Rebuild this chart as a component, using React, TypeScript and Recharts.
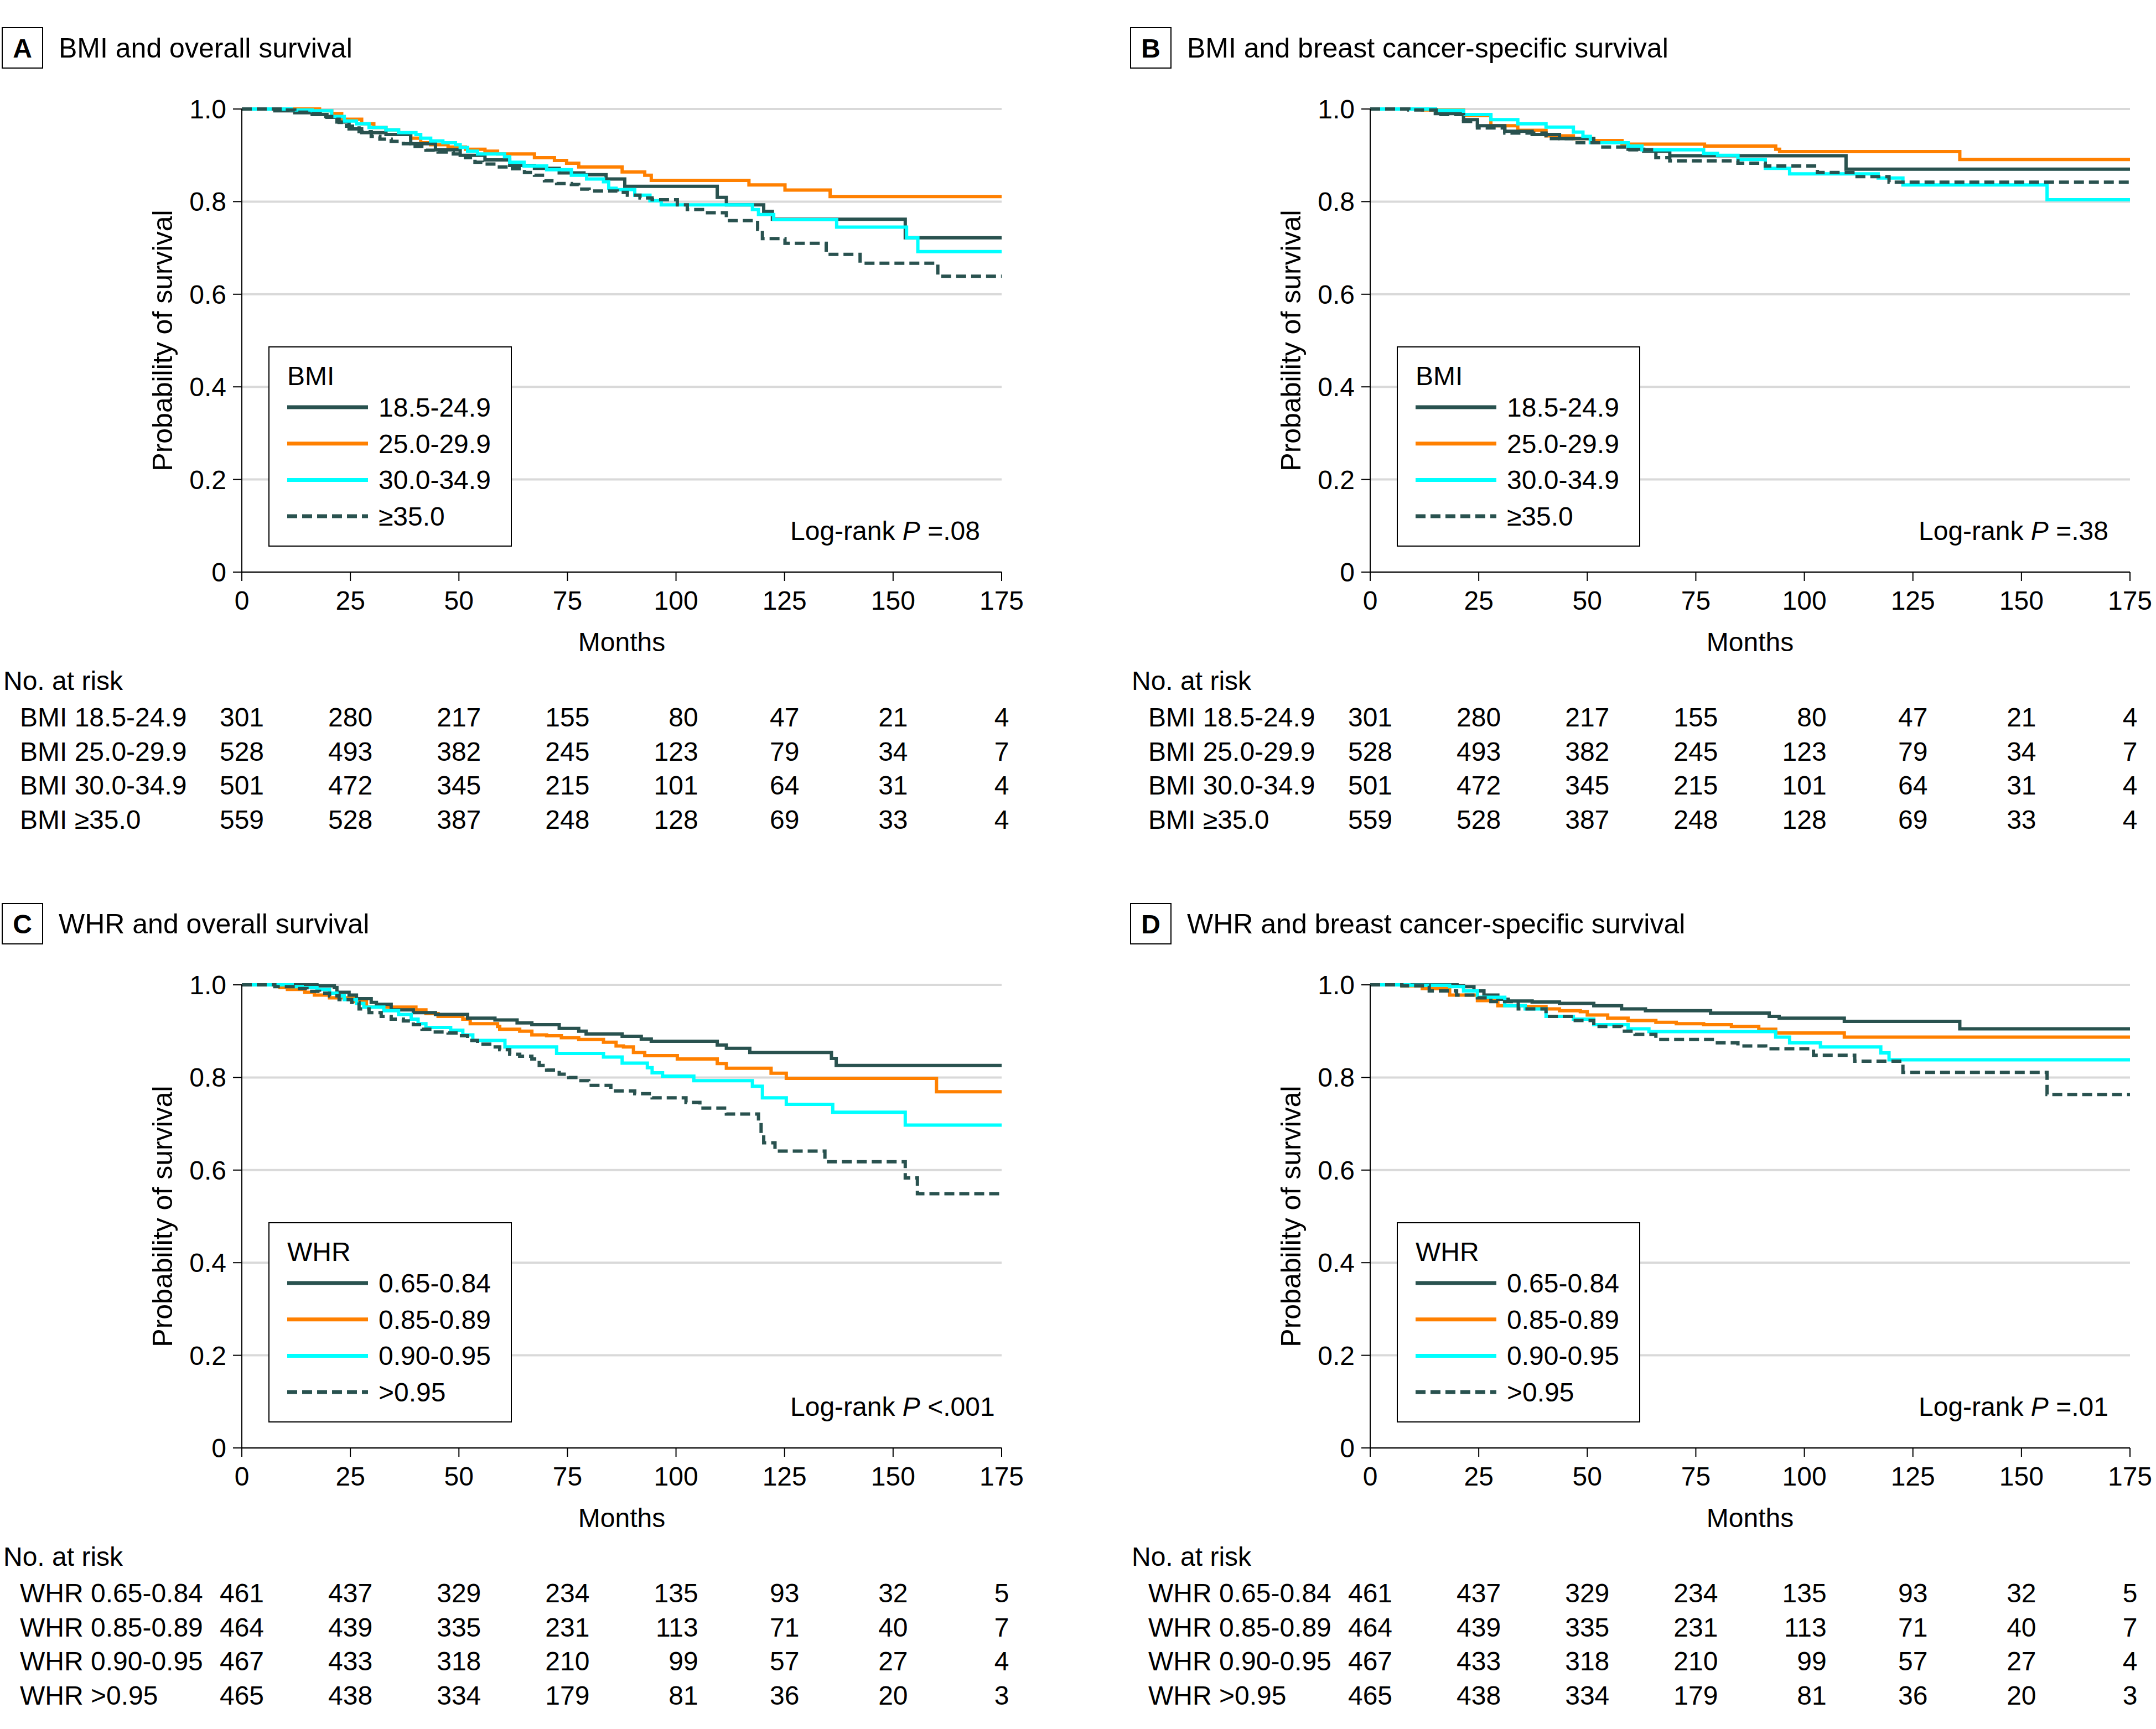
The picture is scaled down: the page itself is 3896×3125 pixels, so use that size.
import React from "react";
import { LineChart, Line, XAxis, YAxis, CartesianGrid, Legend } from "recharts";

type Pt = [number, number];

const months = [0, 25, 50, 75, 100, 125, 150, 175];
const probTicks = [0, 0.2, 0.4, 0.6, 0.8, 1];

// A: BMI and overall survival
const bmiOs185: Pt[] = [[0, 1], [7.6, 0.996], [12.2, 0.992], [16.2, 0.988], [19.6, 0.982], [21.9, 0.972], [24.7, 0.957], [27.6, 0.949], [33.2, 0.945], [38.9, 0.925], [44.6, 0.912], [50.3, 0.9], [56, 0.89], [61.7, 0.878], [67.4, 0.872], [73.1, 0.862], [78.8, 0.858], [83.9, 0.849], [88.2, 0.833], [109.5, 0.809], [111.6, 0.793], [120.2, 0.779], [122.2, 0.762], [152.8, 0.722], [175, 0.722]];
const bmiOs250: Pt[] = [[0, 1], [17.9, 0.996], [20.7, 0.99], [23, 0.978], [27.6, 0.968], [30.4, 0.96], [33.2, 0.955], [36.1, 0.947], [38.9, 0.937], [41.2, 0.927], [43.5, 0.923], [47.5, 0.918], [51.5, 0.913], [56, 0.909], [58.9, 0.903], [67.4, 0.895], [72, 0.889], [74.8, 0.883], [77.6, 0.875], [87.6, 0.864], [92.8, 0.857], [94.3, 0.846], [116.8, 0.836], [125.1, 0.825], [135.5, 0.811], [175, 0.811]];
const bmiOs300: Pt[] = [[0, 1], [11.4, 0.998], [16.2, 0.996], [20.7, 0.984], [23.6, 0.974], [26.4, 0.968], [29.3, 0.96], [33.2, 0.955], [36.1, 0.949], [40.1, 0.945], [41.2, 0.937], [43.5, 0.931], [46.3, 0.927], [49.2, 0.923], [50.3, 0.917], [52, 0.909], [54.3, 0.903], [60.5, 0.897], [61.7, 0.885], [65, 0.877], [70.2, 0.869], [75.9, 0.857], [79.4, 0.849], [83.3, 0.843], [84.5, 0.829], [86.2, 0.826], [90.5, 0.814], [94, 0.802], [96.6, 0.793], [117.6, 0.783], [119, 0.772], [122.5, 0.761], [137, 0.745], [153.1, 0.722], [155.7, 0.692], [175, 0.692]];
const bmiOs350: Pt[] = [[0, 1], [10.1, 0.998], [12.2, 0.993], [15.6, 0.99], [18.5, 0.984], [20.7, 0.978], [22.4, 0.971], [24.1, 0.963], [27, 0.951], [29.8, 0.941], [31.8, 0.935], [34.4, 0.93], [37.2, 0.925], [39.5, 0.919], [42.4, 0.911], [45.2, 0.907], [48.7, 0.903], [51.5, 0.895], [53.7, 0.885], [55.4, 0.881], [58.9, 0.875], [61.7, 0.871], [65.1, 0.863], [67.4, 0.857], [69.7, 0.845], [72.5, 0.839], [75.9, 0.837], [77.6, 0.827], [80, 0.823], [86.5, 0.82], [88.8, 0.814], [91.7, 0.808], [94.5, 0.804], [100.3, 0.793], [102.6, 0.783], [106.1, 0.776], [111.6, 0.759], [118.8, 0.74], [119.9, 0.72], [125.1, 0.71], [134.6, 0.686], [142.4, 0.667], [160.3, 0.639], [175, 0.639]];

// B: BMI and breast cancer-specific survival
const bmiBc185: Pt[] = [[0, 1], [15, 0.99], [21.5, 0.977], [24.7, 0.964], [31, 0.952], [37.3, 0.945], [43.6, 0.936], [51.5, 0.927], [59.4, 0.913], [63, 0.909], [69, 0.899], [109.6, 0.87], [175, 0.87]];
const bmiBc250: Pt[] = [[0, 1], [12, 0.998], [21.5, 0.986], [27.8, 0.964], [34, 0.954], [40.5, 0.942], [46.8, 0.936], [51.5, 0.932], [58, 0.924], [77, 0.92], [93.4, 0.913], [94.3, 0.908], [135.8, 0.891], [175, 0.891]];
const bmiBc300: Pt[] = [[0, 1], [15, 0.997], [21.5, 0.988], [27.8, 0.977], [34, 0.968], [40.5, 0.961], [46.8, 0.95], [49, 0.941], [50.7, 0.927], [59.4, 0.92], [62.6, 0.912], [76.8, 0.904], [80, 0.9], [84.7, 0.891], [91, 0.872], [96.6, 0.86], [117, 0.851], [122.7, 0.836], [155.9, 0.804], [175, 0.804]];
const bmiBc350: Pt[] = [[0, 1], [8.9, 0.998], [15.2, 0.988], [21.5, 0.973], [24.7, 0.959], [31, 0.948], [40.5, 0.936], [46.8, 0.927], [53.1, 0.918], [59.4, 0.912], [65.8, 0.895], [69, 0.888], [84.7, 0.883], [91, 0.877], [103, 0.863], [111.6, 0.854], [119.5, 0.842], [175, 0.842]];

// C: WHR and overall survival
const whrOs065: Pt[] = [[0, 1], [17.3, 0.998], [21.3, 0.994], [21.9, 0.984], [24.7, 0.978], [26.4, 0.97], [29.8, 0.962], [31, 0.958], [34.4, 0.946], [39.5, 0.94], [44.6, 0.936], [52, 0.928], [58.3, 0.924], [63.4, 0.918], [66.8, 0.914], [73.1, 0.906], [77.6, 0.9], [79.3, 0.894], [87.6, 0.889], [92, 0.883], [94.3, 0.878], [109.5, 0.87], [111.6, 0.863], [117, 0.854], [135.8, 0.841], [136.9, 0.826], [175, 0.826]];
const whrOs085: Pt[] = [[0, 1], [8.8, 0.994], [10.5, 0.99], [14.5, 0.984], [16.7, 0.978], [20.2, 0.972], [25.8, 0.964], [28.7, 0.952], [40.1, 0.946], [42.4, 0.938], [45.2, 0.932], [50.9, 0.926], [52.6, 0.916], [58.9, 0.91], [59.4, 0.904], [64, 0.9], [66.8, 0.892], [70.2, 0.89], [73.6, 0.886], [77.6, 0.882], [83.3, 0.876], [86.2, 0.868], [87.9, 0.866], [90.2, 0.854], [92.8, 0.847], [100.3, 0.84], [109.5, 0.83], [111.6, 0.82], [121.9, 0.809], [125.4, 0.798], [160, 0.769], [175, 0.769]];
const whrOs090: Pt[] = [[0, 1], [11.6, 0.996], [13.9, 0.994], [17.3, 0.99], [20.2, 0.982], [21.9, 0.976], [23.6, 0.968], [26.4, 0.96], [28.1, 0.952], [32.7, 0.944], [36.1, 0.936], [39, 0.926], [40.6, 0.916], [42.4, 0.908], [48.1, 0.902], [50.9, 0.892], [53.2, 0.88], [60.6, 0.866], [72.5, 0.852], [83.3, 0.844], [87.6, 0.831], [93.4, 0.821], [94.5, 0.81], [96.9, 0.803], [104.1, 0.793], [117.6, 0.781], [119.9, 0.756], [125.4, 0.742], [136.1, 0.725], [152.8, 0.697], [175, 0.697]];
const whrOs095: Pt[] = [[0, 1], [7.6, 0.996], [12.8, 0.992], [15, 0.986], [17.9, 0.982], [20.2, 0.976], [22.4, 0.968], [25.3, 0.962], [27, 0.948], [29.3, 0.94], [32.1, 0.932], [34.4, 0.926], [37.2, 0.922], [39.5, 0.914], [41.5, 0.904], [44.1, 0.898], [47.5, 0.896], [49.8, 0.89], [52, 0.88], [54.3, 0.872], [57.1, 0.866], [59.4, 0.86], [61.7, 0.85], [64, 0.846], [66.8, 0.84], [68.5, 0.826], [70.2, 0.816], [73.1, 0.807], [75.3, 0.8], [77.6, 0.793], [79.9, 0.783], [85, 0.771], [90.5, 0.765], [94.5, 0.756], [102.3, 0.746], [105.5, 0.734], [111.6, 0.721], [119, 0.703], [119.6, 0.678], [120.2, 0.659], [122.8, 0.641], [134.3, 0.618], [152.8, 0.583], [155.6, 0.549], [175, 0.549]];

// D: WHR and breast cancer-specific survival
const whrBc065: Pt[] = [[0, 1], [20, 0.998], [21.5, 0.996], [23.9, 0.987], [26.2, 0.978], [29.4, 0.969], [31.8, 0.965], [37.3, 0.963], [43.6, 0.96], [51.5, 0.955], [57.9, 0.948], [63.4, 0.944], [78.4, 0.939], [91.9, 0.932], [94.2, 0.928], [109.2, 0.921], [135.8, 0.905], [175, 0.905]];
const whrBc085: Pt[] = [[0, 1], [7.3, 0.998], [12, 0.992], [18.3, 0.978], [24.7, 0.966], [29.4, 0.955], [35.7, 0.953], [40.5, 0.948], [43.6, 0.944], [48.4, 0.942], [50, 0.935], [54.7, 0.928], [59.4, 0.923], [65.8, 0.919], [70.5, 0.916], [76.8, 0.914], [83.2, 0.91], [89.5, 0.904], [93.4, 0.896], [109.2, 0.887], [175, 0.887]];
const whrBc090: Pt[] = [[0, 1], [8.9, 0.999], [18.3, 0.996], [21.5, 0.987], [24.7, 0.973], [31, 0.955], [35.7, 0.948], [40.5, 0.932], [46.8, 0.926], [51.5, 0.914], [59.4, 0.905], [64.2, 0.899], [93.4, 0.887], [96.6, 0.875], [103.7, 0.866], [117.6, 0.853], [119.5, 0.838], [175, 0.838]];
const whrBc095: Pt[] = [[0, 1], [7.3, 0.998], [13.6, 0.987], [19.9, 0.978], [24.7, 0.972], [27.8, 0.964], [34.1, 0.948], [40.5, 0.932], [46.8, 0.923], [51.5, 0.91], [57.9, 0.9], [61, 0.893], [65.8, 0.882], [79.2, 0.875], [84.7, 0.868], [91.1, 0.862], [102.1, 0.848], [111.6, 0.835], [122.7, 0.811], [155.9, 0.763], [175, 0.763]];

const bmiGroups = ["18.5-24.9", "25.0-29.9", "30.0-34.9", "≥35.0"];
const whrGroups = ["0.65-0.84", "0.85-0.89", "0.90-0.95", ">0.95"];

// No. at risk
const bmiRiskLabels = ["BMI 18.5-24.9", "BMI 25.0-29.9", "BMI 30.0-34.9", "BMI ≥35.0"];
const bmiRisk185 = [301, 280, 217, 155, 80, 47, 21, 4];
const bmiRisk250 = [528, 493, 382, 245, 123, 79, 34, 7];
const bmiRisk300 = [501, 472, 345, 215, 101, 64, 31, 4];
const bmiRisk350 = [559, 528, 387, 248, 128, 69, 33, 4];

const whrRiskLabels = ["WHR 0.65-0.84", "WHR 0.85-0.89", "WHR 0.90-0.95", "WHR >0.95"];
const whrRisk065 = [461, 437, 329, 234, 135, 93, 32, 5];
const whrRisk085 = [464, 439, 335, 231, 113, 71, 40, 7];
const whrRisk090 = [467, 433, 318, 210, 99, 57, 27, 4];
const whrRisk095 = [465, 438, 334, 179, 81, 36, 20, 3];

const COLORS = ["#29524f", "#ff8000", "#00ffff", "#29524f"];
const DASHES = [undefined, undefined, undefined, "18 9"];
const DRAW_ORDER = [1, 0, 2, 3];

const FONT = "'Liberation Sans', Arial, sans-serif";
const FS = 48;
const DIGIT_W = FS * 0.556;
const PW = 1857;
const PH = 1583;
const ROW0 = 245;
const ROW_GAP = 61.7;

const toRows = (pts: Pt[]) => pts.map(([t, s]) => ({ t, s }));

function RiskTick(props: any) {
  const { x, y, payload, labels, risk } = props;
  const idx = months.indexOf(payload.value);
  const col = risk.map((r: number[]) => String(r[idx]));
  const maxLen = Math.max(...col.map((s: string) => s.length));
  const xr = x + (maxLen * DIGIT_W) / 2;
  return (
    <g fontSize={FS} fill="#000">
      <text x={x} y={y} dy="0.71em" textAnchor="middle">
        {payload.value}
      </text>
      {col.map((v: string, r: number) => (
        <text key={r} x={xr} y={y + ROW0 + r * ROW_GAP} textAnchor="end">
          {v}
        </text>
      ))}
      {idx === 0 && (
        <>
          <text x={6} y={y + 179}>No. at risk</text>
          {labels.map((l: string, r: number) => (
            <text key={l} x={36} y={y + ROW0 + r * ROW_GAP}>
              {l}
            </text>
          ))}
        </>
      )}
    </g>
  );
}

interface PanelProps {
  left: number;
  top: number;
  letter: string;
  title: string;
  legendTitle: string;
  groups: string[];
  curves: Pt[][];
  riskLabels: string[];
  risk: number[][];
  pText: string;
}

function Panel({ left, top, letter, title, legendTitle, groups, curves, riskLabels, risk, pText }: PanelProps) {
  const renderLegend = () => (
    <svg width={440} height={362} style={{ display: "block" }}>
      <rect x={1} y={1} width={438} height={360} fill="#fff" stroke="#000" strokeWidth={2} />
      <text x={34} y={70} fontSize={FS} fill="#000">
        {legendTitle}
      </text>
      {groups.map((g, i) => (
        <g key={g}>
          <line
            x1={34}
            x2={180}
            y1={110 + i * 65.7}
            y2={110 + i * 65.7}
            stroke={COLORS[i]}
            strokeWidth={7}
            strokeDasharray={DASHES[i]}
          />
          <text x={199} y={127 + i * 65.7} fontSize={FS} fill="#000">
            {g}
          </text>
        </g>
      ))}
    </svg>
  );

  return (
    <div style={{ position: "absolute", left, top, width: PW, height: PH }}>
      <LineChart width={PW} height={PH} margin={{ top: 197, right: 47, bottom: 389, left: 149 }}>
        <CartesianGrid vertical={false} stroke="#d9d9d9" strokeWidth={4} />
        <XAxis
          type="number"
          dataKey="t"
          domain={[0, 175]}
          ticks={months}
          interval={0}
          height={160}
          tickSize={16}
          tickMargin={18}
          axisLine={{ stroke: "#000", strokeWidth: 2 }}
          tickLine={{ stroke: "#000", strokeWidth: 2 }}
          tick={(p: any) => <RiskTick {...p} labels={riskLabels} risk={risk} />}
          label={{ value: "Months", position: "insideBottom", offset: 17, fill: "#000", fontSize: FS }}
        />
        <YAxis
          type="number"
          dataKey="s"
          domain={[0, 1]}
          ticks={probTicks}
          interval={0}
          width={288}
          tickSize={16}
          tickMargin={12}
          axisLine={{ stroke: "#000", strokeWidth: 2 }}
          tickLine={{ stroke: "#000", strokeWidth: 2 }}
          tick={{ fill: "#000", fontSize: FS }}
          tickFormatter={(v: number) => (v === 0 ? "0" : v.toFixed(1))}
          label={{ value: "Probability of survival", angle: -90, position: "center", fill: "#000", fontSize: 50 }}
        />
        <Legend
          content={renderLegend}
          layout="horizontal"
          verticalAlign="middle"
          align="center"
          wrapperStyle={{ left: 485, top: 626, width: 440, height: 362 }}
        />
        {DRAW_ORDER.map((i) => (
          <Line
            key={groups[i]}
            data={toRows(curves[i])}
            dataKey="s"
            type="stepAfter"
            stroke={COLORS[i]}
            strokeWidth={6}
            strokeDasharray={DASHES[i]}
            dot={false}
            activeDot={false}
            isAnimationActive={false}
          />
        ))}
      </LineChart>
      <svg
        width={PW}
        height={PH}
        style={{ position: "absolute", left: 0, top: 0, pointerEvents: "none" }}
        fontSize={FS}
        fill="#000"
      >
        <rect x={4} y={50} width={73} height={73} fill="none" stroke="#000" strokeWidth={2} />
        <text x={40.5} y={104} textAnchor="middle" fontWeight="bold">
          {letter}
        </text>
        <text x={106} y={104} fontSize={50}>
          {title}
        </text>
        <text x={1428} y={976}>
          Log-rank <tspan fontStyle="italic">P</tspan> {pText}
        </text>
      </svg>
    </div>
  );
}

export default function App() {
  return (
    <div
      style={{
        position: "absolute",
        left: 0,
        top: 0,
        width: 3896,
        height: 3125,
        background: "#fff",
        fontFamily: FONT,
        overflow: "hidden",
      }}
    >
      <Panel
        left={0}
        top={0}
        letter="A"
        title="BMI and overall survival"
        legendTitle="BMI"
        groups={bmiGroups}
        curves={[bmiOs185, bmiOs250, bmiOs300, bmiOs350]}
        riskLabels={bmiRiskLabels}
        risk={[bmiRisk185, bmiRisk250, bmiRisk300, bmiRisk350]}
        pText="=.08"
      />
      <Panel
        left={2039}
        top={0}
        letter="B"
        title="BMI and breast cancer-specific survival"
        legendTitle="BMI"
        groups={bmiGroups}
        curves={[bmiBc185, bmiBc250, bmiBc300, bmiBc350]}
        riskLabels={bmiRiskLabels}
        risk={[bmiRisk185, bmiRisk250, bmiRisk300, bmiRisk350]}
        pText="=.38"
      />
      <Panel
        left={0}
        top={1583}
        letter="C"
        title="WHR and overall survival"
        legendTitle="WHR"
        groups={whrGroups}
        curves={[whrOs065, whrOs085, whrOs090, whrOs095]}
        riskLabels={whrRiskLabels}
        risk={[whrRisk065, whrRisk085, whrRisk090, whrRisk095]}
        pText="<.001"
      />
      <Panel
        left={2039}
        top={1583}
        letter="D"
        title="WHR and breast cancer-specific survival"
        legendTitle="WHR"
        groups={whrGroups}
        curves={[whrBc065, whrBc085, whrBc090, whrBc095]}
        riskLabels={whrRiskLabels}
        risk={[whrRisk065, whrRisk085, whrRisk090, whrRisk095]}
        pText="=.01"
      />
    </div>
  );
}
